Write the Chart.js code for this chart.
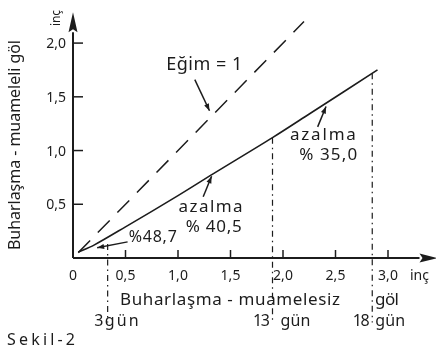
<!DOCTYPE html>
<html>
<head>
<meta charset="utf-8">
<script src="https://cdn.jsdelivr.net/npm/chart.js@4"></script>
<style>
    html, body { margin: 0; padding: 0; background: #fff; }
    canvas { display: block; }
</style>
</head>
<body>
<canvas id="chart" width="436" height="355"></canvas>
<script>
// Evaporation, inches: untreated lake (x) vs treated lake (y)
const slopeX = [0.05, 2.2];
const slopeY = [0.05, 2.2];
const treatedX = [0.05, 0.2, 0.5, 1.0, 1.33, 1.9, 2.25, 2.9];
const treatedY = [0.055, 0.12, 0.29, 0.58, 0.78, 1.12, 1.34, 1.75];
const dayLabels = ['3', '13', '18'];
const dayX = [0.33, 1.9, 2.85];
const dayTopY = [0.13, 1.12, 1.72];
const dayBottomY = -0.6;
const reductionLabels = ['%48,7', '% 40,5', '% 35,0'];
const xTicks = [0.5, 1.0, 1.5, 2.0, 2.5, 3.0];
const xTickLabels = ['0,5', '1,0', '1,5', '2,0', '2,5', '3,0'];
const yTicks = [0.5, 1.0, 1.5, 2.0];
const yTickLabels = ['0,5', '1,0', '1,5', '2,0'];

const INK = '#1c1c1c';
const FONT = '"Noto Sans", "DejaVu Sans", sans-serif';

function pts(xs, ys) {
    return xs.map((x, i) => ({ x: x, y: ys[i] }));
}

const datasets = [
    {
        // x axis
        data: [{ x: 0, y: 0 }, { x: 3.3, y: 0 }],
        borderColor: INK, borderWidth: 2, pointRadius: 0, clip: false
    },
    {
        // y axis
        data: [{ x: 0, y: 0 }, { x: 0, y: 2.1 }],
        borderColor: INK, borderWidth: 2, pointRadius: 0, clip: false
    },
    {
        label: 'Eğim = 1',
        data: pts(slopeX, slopeY),
        borderColor: INK, borderWidth: 1.5, borderDash: [17, 11],
        pointRadius: 0, clip: false
    },
    {
        label: 'muameleli',
        data: pts(treatedX, treatedY),
        borderColor: INK, borderWidth: 1.6, tension: 0.3,
        pointRadius: 0, clip: false
    }
];

dayX.forEach((x, i) => {
    datasets.push({
        label: dayLabels[i] + ' gün',
        data: [{ x: x, y: dayTopY[i] }, { x: x, y: dayBottomY }],
        borderColor: INK, borderWidth: 1.2, borderDash: [6, 4, 1.5, 4],
        pointRadius: 0, clip: false
    });
});

function spread(ctx, text, cx, cy, w) {
    ctx.letterSpacing = '0px';
    const m = ctx.measureText(text).width;
    const n = text.length;
    const ls = n > 1 ? (w - m) / (n - 1) : 0;
    ctx.letterSpacing = ls + 'px';
    ctx.textAlign = 'left';
    ctx.fillText(text, cx - w / 2, cy);
    ctx.letterSpacing = '0px';
}

function arrow(ctx, x1, y1, x2, y2) {
    ctx.beginPath();
    ctx.moveTo(x1, y1);
    ctx.lineTo(x2, y2);
    ctx.stroke();
    const a = Math.atan2(y2 - y1, x2 - x1);
    const len = 7, half = 2.6;
    ctx.beginPath();
    ctx.moveTo(x2, y2);
    ctx.lineTo(x2 - len * Math.cos(a) + half * Math.sin(a), y2 - len * Math.sin(a) - half * Math.cos(a));
    ctx.lineTo(x2 - len * Math.cos(a) - half * Math.sin(a), y2 - len * Math.sin(a) + half * Math.cos(a));
    ctx.closePath();
    ctx.fill();
}

const decorPlugin = {
    id: 'decor',
    afterDatasetsDraw(chart) {
        const ctx = chart.ctx;
        const xs = chart.scales.x, ys = chart.scales.y;
        const px = v => xs.getPixelForValue(v);
        const py = v => ys.getPixelForValue(v);
        const x0 = px(0), y0 = py(0);

        ctx.save();
        ctx.fillStyle = INK;
        ctx.strokeStyle = INK;
        ctx.lineWidth = 1.5;
        ctx.textBaseline = 'middle';

        // axis arrowheads
        const xEnd = px(3.3), yEnd = py(2.1);
        ctx.beginPath();
        ctx.moveTo(xEnd + 18, y0);
        ctx.lineTo(xEnd, y0 - 4.5);
        ctx.lineTo(xEnd + 3, y0);
        ctx.lineTo(xEnd, y0 + 4.5);
        ctx.closePath();
        ctx.fill();
        ctx.beginPath();
        ctx.moveTo(x0, yEnd - 20);
        ctx.lineTo(x0 - 4.5, yEnd);
        ctx.lineTo(x0, yEnd - 3);
        ctx.lineTo(x0 + 4.5, yEnd);
        ctx.closePath();
        ctx.fill();

        // ticks
        ctx.font = '14px ' + FONT;
        xTicks.forEach((t, i) => {
            ctx.beginPath();
            ctx.moveTo(px(t), y0);
            ctx.lineTo(px(t), y0 - 8);
            ctx.stroke();
            ctx.textAlign = 'center';
            ctx.fillText(xTickLabels[i], px(t), y0 + 18);
        });
        ctx.fillText('0', x0, y0 + 18);
        ctx.textAlign = 'left';
        ctx.fillText('inç', px(3.0) + 22, y0 + 18);
        yTicks.forEach((t, i) => {
            ctx.beginPath();
            ctx.moveTo(x0, py(t));
            ctx.lineTo(x0 + 10, py(t));
            ctx.stroke();
            ctx.textAlign = 'right';
            ctx.fillText(yTickLabels[i], x0 - 7, py(t) + 1);
        });

        // annotations
        ctx.font = '18px ' + FONT;
        spread(ctx, 'Eğim = 1', px(1.25), py(1.80), 76);
        arrow(ctx, px(1.16), py(1.66), px(1.30), py(1.37));

        ctx.font = '17px ' + FONT;
        spread(ctx, 'azalma', px(2.38), py(1.14), 66);
        spread(ctx, reductionLabels[2], px(2.43), py(0.96), 58);
        arrow(ctx, px(2.33), py(1.22), px(2.41), py(1.41));

        spread(ctx, 'azalma', px(1.31), py(0.47), 64);
        spread(ctx, reductionLabels[1], px(1.34), py(0.29), 56);
        arrow(ctx, px(1.24), py(0.57), px(1.32), py(0.76));

        ctx.font = '16px ' + FONT;
        spread(ctx, reductionLabels[0], px(0.76), py(0.195), 48);
        arrow(ctx, px(0.52), py(0.15), px(0.23), py(0.095));

        // axis titles
        ctx.font = '17px ' + FONT;
        spread(ctx, 'Buharlaşma - muamelesiz', 230, 300, 220);
        spread(ctx, 'göl', 387, 300, 24);

        // day markers
        ctx.font = '16px ' + FONT;
        spread(ctx, dayLabels[0], px(dayX[0]) - 9, 321, 9);
        spread(ctx, 'gün', px(dayX[0]) + 14, 321, 34);
        spread(ctx, dayLabels[1], px(dayX[1]) - 11, 321, 17);
        spread(ctx, 'gün', px(dayX[1]) + 23, 321, 30);
        spread(ctx, dayLabels[2], px(dayX[2]) - 11, 321, 17);
        spread(ctx, 'gün', px(dayX[2]) + 18, 321, 30);

        spread(ctx, 'Sekil-2', 41, 340, 68);

        // rotated y title
        ctx.save();
        ctx.translate(15, 145);
        ctx.rotate(-Math.PI / 2);
        ctx.font = '16px ' + FONT;
        spread(ctx, 'Buharlaşma - muameleli göl', 0, 0, 210);
        ctx.restore();

        ctx.save();
        ctx.translate(57, 18);
        ctx.rotate(-Math.PI / 2);
        ctx.font = '12px ' + FONT;
        spread(ctx, 'inç', 0, 0, 16);
        ctx.restore();

        ctx.restore();
    }
};

new Chart(document.getElementById('chart'), {
    type: 'scatter',
    data: { datasets: datasets },
    options: {
        responsive: false,
        devicePixelRatio: 1,
        animation: false,
        showLine: true,
        layout: { padding: { left: 73, right: 6, top: 13, bottom: 97 } },
        plugins: { legend: { display: false }, tooltip: { enabled: false } },
        scales: {
            x: { type: 'linear', min: 0, max: 3.4, display: false },
            y: { type: 'linear', min: 0, max: 2.28, display: false }
        }
    },
    plugins: [decorPlugin]
});
</script>
</body>
</html>
